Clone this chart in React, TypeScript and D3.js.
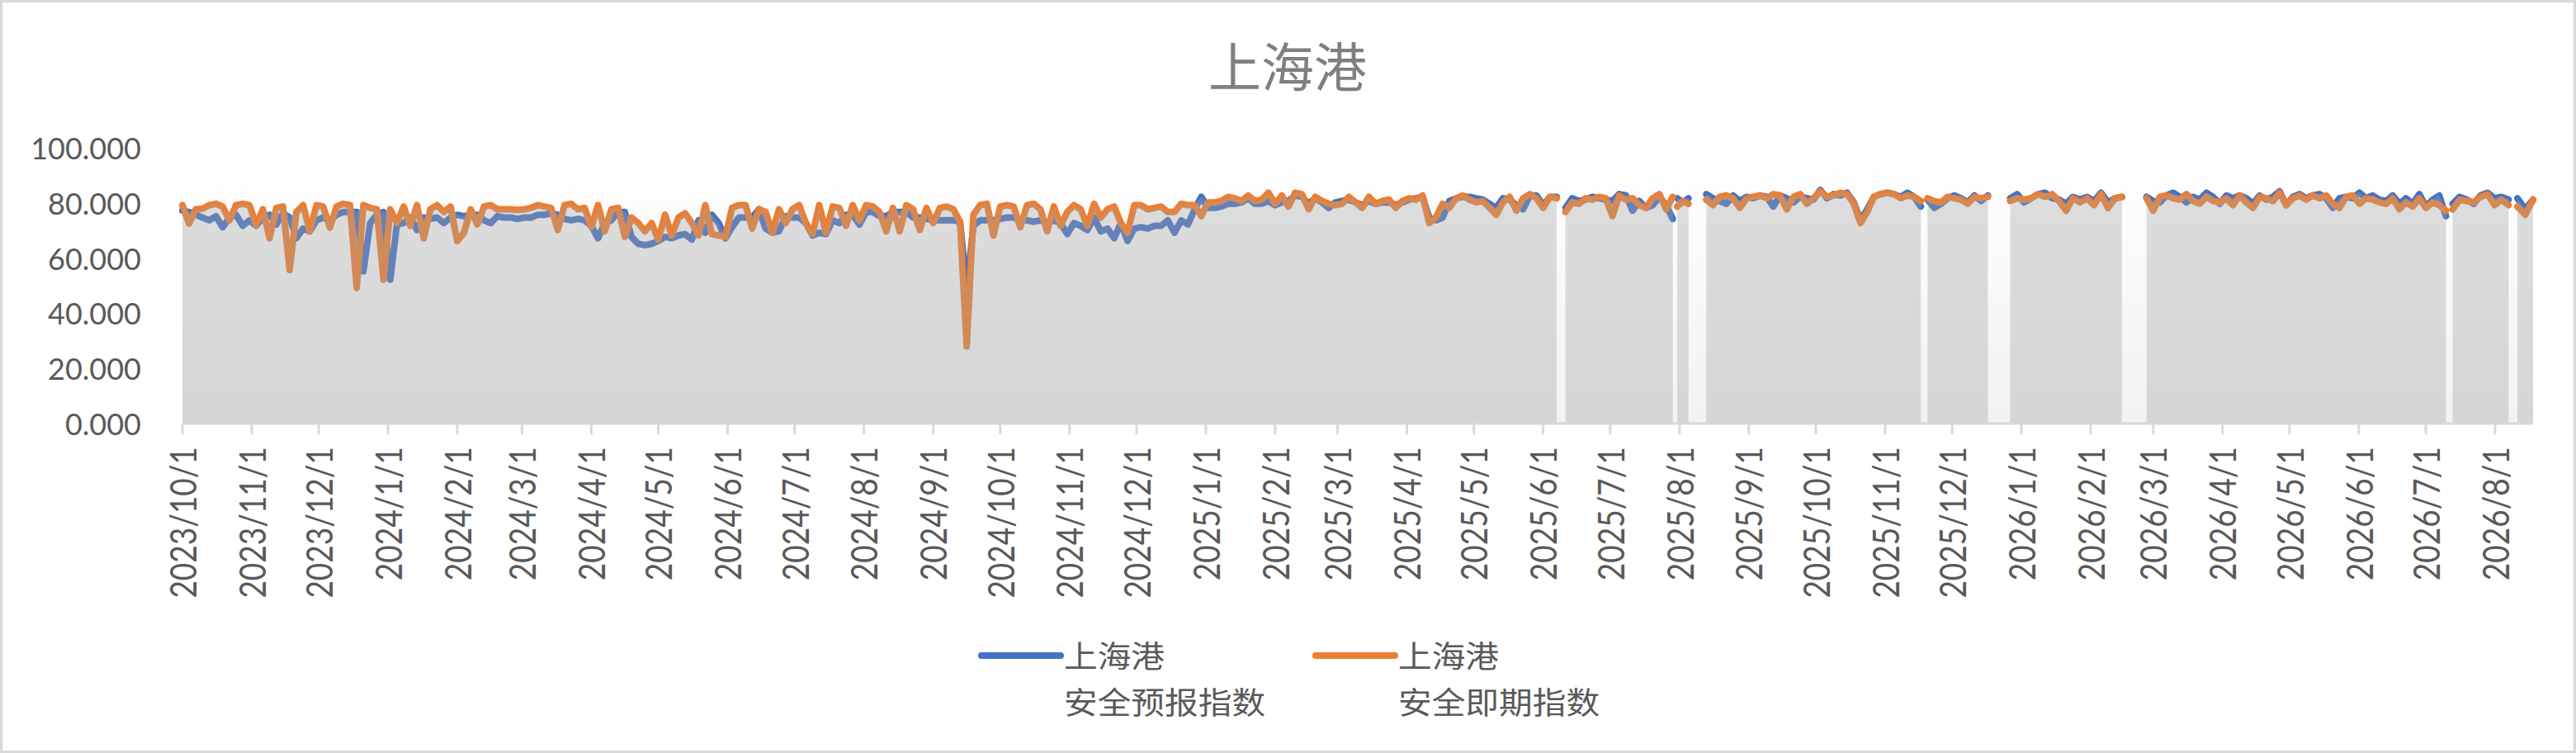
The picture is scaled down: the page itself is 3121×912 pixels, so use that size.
import React from "react";
import * as d3 from "d3";

// 上海港 safety indices (approx. every 3 days)
// Each segment is a stretch of consecutive days; breaks are days with no data.
const segmentSpans: [string, string][] = [
  ["2023-10-01", "2025-06-07"],
  ["2025-06-11", "2025-07-29"],
  ["2025-07-31", "2025-08-05"],
  ["2025-08-13", "2025-11-17"],
  ["2025-11-20", "2025-12-17"],
  ["2025-12-27", "2026-02-15"],
  ["2026-02-26", "2026-07-10"],
  ["2026-07-13", "2026-08-07"],
  ["2026-08-11", "2026-08-18"],
];

// 安全预报指数 (blue)
const forecastSeg1 = [
  77.2, 76.7, 75.7, 74.7, 73.7, 75.2, 71.2, 74.7, 75.7, 71.7,
  73.7, 71.7, 74.7, 75.7, 72.2, 76.2, 74.7, 67.2, 70.7, 69.7,
  73.7, 74.7, 73.7, 75.7, 76.7, 76.7, 76.7, 55.2, 72.7, 75.7,
  76.7, 52.2, 72.2, 72.7, 74.7, 70.2, 74.7, 74.2, 74.7, 72.7,
  74.7, 75.7, 75.2, 75.7, 75.7, 73.7, 72.7, 75.2, 74.7, 74.7,
  74.2, 74.7, 74.7, 75.7, 75.7, 76.2, 75.7, 74.2, 73.7, 74.2,
  73.7, 71.7, 67.2, 72.7,
  73.7, 76.7, 76.7, 67.7, 65.2, 64.7, 65.2, 66.2, 67.7, 67.2,
  68.2, 68.7, 66.7, 73.7, 69.2, 75.7, 72.7, 67.2, 71.2, 74.7,
  74.7, 74.7, 77.7, 70.7, 69.2, 69.7, 75.2, 74.7, 74.7, 72.7,
  68.2, 69.2, 68.7, 73.7, 72.7, 75.7, 75.7, 72.2, 76.7, 76.7,
  75.2, 75.2, 76.7, 76.7, 76.7, 74.7, 74.7, 74.2, 73.7, 73.7,
  73.7, 73.7, 73.2, 48.7, 71.7, 73.7, 73.7, 73.7, 74.2, 74.7,
  74.7, 73.7, 73.7, 73.2,
  73.7, 72.7, 73.7, 72.7, 68.7, 72.7, 71.7, 70.2, 74.7, 69.7,
  70.7, 67.2, 72.7, 66.2, 70.7, 71.2, 70.7, 71.7, 71.7, 73.7,
  69.2, 73.7, 72.2, 77.7, 82.2, 78.2, 78.2, 78.7, 79.7, 79.7,
  80.2, 81.7, 79.7, 79.7, 80.7, 79.2, 80.2, 80.7, 82.7, 82.2,
  79.7, 81.7, 80.2, 78.2, 80.2, 80.7, 81.2, 80.2, 79.2, 80.7,
  79.7, 80.2, 80.2, 79.2, 80.2, 81.2, 81.7, 82.2, 74.7, 73.7,
  74.7, 80.7, 81.7, 82.2, 82.2, 81.7, 81.2, 79.7, 78.2, 81.7,
  81.2, 79.2, 77.7, 82.7, 82.7, 79.2, 82.2, 82.2,
];
const forecastSeg2 = [78.2, 81.7, 80.7, 81.2, 82.2, 81.7, 81.2, 80.7, 83.2, 82.7, 77.2, 80.7, 78.2, 79.2, 82.2, 79.2, 74.2];
const forecastSeg3 = [81.7, 80.2, 81.7];
const forecastSeg4 = [
  83.2, 81.7, 80.7, 79.7, 82.7, 80.7, 82.2, 81.7, 82.7, 82.2, 78.7, 82.7, 81.7, 80.2, 82.2, 81.7, 81.2,
  84.7, 81.7, 83.2, 82.7, 83.7, 80.2, 73.7, 77.7, 82.2, 83.2, 83.7, 83.2, 82.2, 83.7, 82.2, 78.7,
];
const forecastSeg5 = [81.2, 78.2, 79.7, 81.7, 82.7, 81.7, 80.2, 82.7, 80.7, 82.7];
const forecastSeg6 = [81.7, 83.2, 80.2, 81.7, 83.2, 83.7, 81.7, 81.2, 79.7, 82.2, 81.2, 82.2, 80.7, 83.7, 80.2, 81.7, 82.2];
const forecastSeg7 = [
  82.2, 80.7, 80.2, 82.7, 83.7, 82.2, 80.2, 82.2, 81.2, 83.7, 82.2, 79.7, 82.7, 81.7, 82.7, 81.7, 79.7,
  82.7, 81.2, 82.2, 84.2, 79.2, 82.2, 83.2, 81.7, 82.7, 83.2, 81.7, 78.2, 81.7, 82.2, 81.7, 83.7, 81.7,
  82.7, 81.2, 80.7, 82.7, 79.7, 81.7, 79.7, 83.2, 78.7, 81.2, 82.7, 75.2,
];
const forecastSeg8 = [79.7, 82.2, 81.2, 79.7, 82.7, 83.7, 81.7, 82.2, 81.2];
const forecastSeg9 = [81.7, 77.7, 81.2];

// 安全即期指数 (orange)
const currentSeg1 = [
  79.2, 72.5, 77.7, 77.9, 79.2, 79.7, 78.7, 73.7, 79.2, 79.7,
  79.2, 72.0, 77.7, 67.2, 78.2, 78.7, 55.7, 76.7, 79.2, 69.7,
  79.2, 78.7, 71.0, 78.7, 79.7, 79.2, 49.2, 79.2, 78.2, 77.7,
  52.2, 77.7, 72.7, 78.7, 71.7, 79.2, 67.2, 77.7, 79.2, 76.7,
  78.7, 66.2, 69.2, 77.7, 72.2, 78.7, 79.2, 77.7, 77.7, 77.7,
  77.5, 77.7, 78.2, 79.2, 78.7, 78.2, 70.2, 79.2, 79.7, 77.7,
  78.2, 71.2, 79.2, 69.7,
  77.7, 78.2, 67.7, 74.7, 72.7, 69.7, 72.7, 66.7, 75.7, 68.2,
  74.7, 76.2, 72.7, 68.2, 79.2, 68.7, 68.2, 67.7, 78.2, 79.2,
  79.2, 70.7, 77.7, 76.7, 69.2, 77.7, 72.7, 77.7, 79.2, 72.7,
  68.7, 79.2, 69.2, 78.7, 78.2, 71.7, 79.2, 73.7, 79.2, 78.7,
  76.7, 69.7, 78.2, 69.7, 79.2, 77.7, 70.2, 78.2, 72.7, 78.2,
  78.7, 77.7, 73.2, 28.0, 75.7, 79.2, 79.7, 68.2, 78.7, 79.2,
  78.7, 71.2, 79.2, 79.7,
  77.7, 69.7, 78.7, 71.7, 76.7, 79.2, 77.7, 71.7, 79.7, 74.7,
  77.7, 78.7, 72.7, 69.2, 79.2, 79.2, 77.7, 78.2, 78.7, 76.7,
  76.7, 79.7, 79.2, 79.2, 75.2, 80.2, 80.2, 80.7, 82.2, 81.7,
  80.7, 82.7, 80.7, 81.2, 83.7, 79.7, 82.7, 78.7, 83.7, 83.2,
  77.7, 82.2, 80.7, 79.7, 79.2, 79.7, 82.2, 80.2, 78.2, 82.2,
  79.7, 80.7, 81.2, 78.2, 80.7, 81.7, 81.2, 82.7, 72.7, 74.7,
  79.7, 78.2, 81.7, 82.7, 81.2, 80.2, 80.7, 78.2, 75.7, 80.2,
  82.2, 77.2, 81.7, 83.2, 81.7, 78.2, 82.2, 81.7,
];
const currentSeg2 = [76.7, 80.2, 79.7, 81.7, 81.2, 82.2, 81.7, 75.2, 82.7, 81.2, 81.7, 79.2, 78.2, 81.7, 83.2, 77.7, 82.2];
const currentSeg3 = [78.7, 80.7, 79.7];
const currentSeg4 = [
  81.2, 79.2, 82.2, 82.7, 81.7, 78.2, 81.7, 82.2, 82.7, 81.7, 83.2, 82.7, 77.7, 82.2, 83.2, 79.7, 81.7,
  84.2, 82.2, 82.7, 83.7, 83.2, 79.7, 72.7, 76.7, 82.2, 83.2, 83.7, 83.2, 81.7, 82.7, 82.2, 80.7,
];
const currentSeg5 = [81.7, 80.7, 80.2, 82.2, 81.7, 81.2, 79.7, 82.2, 81.7, 82.2];
const currentSeg6 = [80.7, 81.7, 81.2, 81.7, 83.2, 82.2, 83.2, 80.7, 77.2, 81.7, 80.2, 81.7, 79.2, 83.2, 78.2, 81.7, 82.2];
const currentSeg7 = [
  81.7, 77.2, 82.2, 82.7, 81.7, 81.2, 83.2, 80.7, 79.7, 82.2, 80.7, 80.2, 81.7, 79.2, 82.7, 80.2, 78.2,
  82.2, 81.7, 80.7, 83.7, 79.2, 81.7, 82.7, 81.2, 82.7, 81.7, 82.7, 79.7, 78.2, 82.2, 82.7, 79.7, 81.7,
  81.2, 80.2, 79.7, 81.7, 77.7, 80.2, 78.7, 81.7, 78.2, 80.2, 79.2, 77.2,
];
const currentSeg8 = [77.7, 81.2, 80.7, 80.2, 82.2, 83.2, 79.2, 81.2, 79.2];
const currentSeg9 = [78.7, 75.7, 81.2];

const forecastSegments = [
  forecastSeg1, forecastSeg2, forecastSeg3, forecastSeg4, forecastSeg5,
  forecastSeg6, forecastSeg7, forecastSeg8, forecastSeg9,
];
const currentSegments = [
  currentSeg1, currentSeg2, currentSeg3, currentSeg4, currentSeg5,
  currentSeg6, currentSeg7, currentSeg8, currentSeg9,
];

const yTicks = [0, 20, 40, 60, 80, 100];
const chartTitle = "上海港";
const seriesNames = [
  ["上海港", "安全预报指数"],
  ["上海港", "安全即期指数"],
];
const seriesColors = ["#4472C4", "#ED7D31"];

interface Pt {
  date: Date;
  value: number;
}

const parse = d3.timeParse("%Y-%m-%d");

// spread each segment's readings evenly across its span of days
function buildSegments(values: number[][]): Pt[][] {
  return values.map((vals, s) => {
    const start = parse(segmentSpans[s][0])!;
    const end = parse(segmentSpans[s][1])!;
    const t = d3.scaleLinear().domain([0, vals.length - 1]).range([+start, +end]);
    return vals.map((v, i) => ({ date: new Date(t(i)), value: v }));
  });
}

const W = 3121;
const H = 912;

const App: React.FC = () => {
  const margin = { top: 179, left: 221, right: 3069, bottom: 513 };

  const forecast = buildSegments(forecastSegments);
  const current = buildSegments(currentSegments);
  const upper = forecast.map((seg, s) =>
    seg.map((p, i) => ({ date: p.date, value: Math.max(p.value, current[s][i].value) }))
  );

  const x = d3
    .scaleTime()
    .domain([parse(segmentSpans[0][0])!, parse(segmentSpans[segmentSpans.length - 1][1])!])
    .range([margin.left, margin.right]);

  const y = d3.scaleLinear().domain([0, 100]).range([margin.bottom, margin.top]);

  const line = d3
    .line<Pt>()
    .x(d => x(d.date))
    .y(d => y(d.value));

  const area = d3
    .area<Pt>()
    .x(d => x(d.date))
    .y0(y(0))
    .y1(d => y(d.value));

  const monthTicks = d3.timeMonth.range(x.domain()[0], d3.timeDay.offset(x.domain()[1], 1));
  const fmtMonth = d3.timeFormat("%Y/%-m/%-d");
  const fmtY = d3.format(".3f");

  const latin = "Lato, 'Noto Sans', sans-serif";
  const cjk = "'Noto Sans CJK SC', 'Noto Sans', sans-serif";

  return (
    <svg
      width={W}
      height={H}
      style={{ position: "absolute", left: 0, top: 0, background: "#fff" }}
    >
      <defs>
        <linearGradient id="plotBg" x1="0" y1="0" x2="0" y2="1">
          <stop offset="0%" stopColor="#ffffff" />
          <stop offset="100%" stopColor="#f2f2f2" />
        </linearGradient>
      </defs>

      <rect x={1.5} y={1.5} width={W - 3} height={H - 3} fill="#fff" stroke="#d9d9d9" strokeWidth={3} />

      <text
        x={1560}
        y={77}
        textAnchor="middle"
        dominantBaseline="central"
        fontFamily={cjk}
        fontSize={64}
        fill="#7f7f7f"
      >
        {chartTitle}
      </text>

      {/* plot background */}
      <rect
        x={margin.left}
        y={margin.top}
        width={margin.right - margin.left}
        height={margin.bottom - margin.top}
        fill="url(#plotBg)"
      />

      {/* lines */}
      {[forecast, current].map((segs, k) => (
        <g key={k}>
          {segs.map((seg, s) => (
            <path
              key={s}
              d={line(seg) ?? ""}
              fill="none"
              stroke={seriesColors[k]}
              strokeWidth={8}
              strokeLinejoin="round"
              strokeLinecap="round"
            />
          ))}
        </g>
      ))}

      {/* translucent grey area laid over the lines */}
      {upper.map((seg, s) => (
        <path key={s} d={area(seg) ?? ""} fill="rgb(161,161,161)" fillOpacity={0.353} />
      ))}

      {/* y axis labels */}
      {yTicks.map(t => (
        <text
          key={t}
          x={171}
          y={y(t)}
          textAnchor="end"
          dominantBaseline="central"
          fontFamily={latin}
          fontSize={36}
          fill="#595959"
        >
          {fmtY(t)}
        </text>
      ))}

      {/* x axis */}
      <line x1={margin.left} x2={margin.right} y1={margin.bottom} y2={margin.bottom} stroke="#d9d9d9" strokeWidth={3} />
      {monthTicks.map(d => (
        <g key={+d}>
          <line x1={x(d)} x2={x(d)} y1={margin.bottom} y2={margin.bottom + 13} stroke="#d9d9d9" strokeWidth={3} />
          <text
            transform={`translate(${x(d)},541) scale(1.18,1) rotate(-90)`}
            textAnchor="end"
            dominantBaseline="central"
            fontFamily={latin}
            fontSize={37}
            fill="#595959"
          >
            {fmtMonth(d)}
          </text>
        </g>
      ))}

      {/* legend */}
      {seriesNames.map((names, k) => {
        const lx = k === 0 ? 1189 : 1594;
        return (
          <g key={k}>
            <line
              x1={lx}
              x2={lx + 96}
              y1={794}
              y2={794}
              stroke={seriesColors[k]}
              strokeWidth={8}
              strokeLinecap="round"
            />
            {names.map((n, j) => (
              <text
                key={j}
                transform={`translate(${lx + 100},${793 + j * 56}) scale(1.1,1)`}
                dominantBaseline="central"
                fontFamily={cjk}
                fontSize={37}
                fill="#595959"
              >
                {n}
              </text>
            ))}
          </g>
        );
      })}
    </svg>
  );
};

export default App;
